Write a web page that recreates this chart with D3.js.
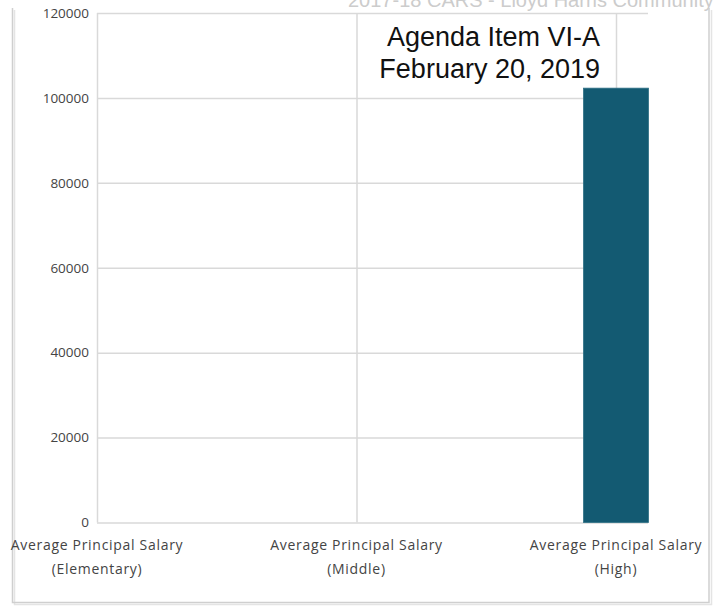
<!DOCTYPE html>
<html>
<head>
<meta charset="utf-8">
<script src="https://cdn.jsdelivr.net/npm/d3@7"></script>
<style>
  html, body { margin: 0; padding: 0; background: #fff; }
  svg { display: block; }
  .tickfont { font-family: 'Open Sans', 'Noto Sans', sans-serif; }
  .catfont { font-family: 'Open Sans', 'Noto Sans', sans-serif; }
  .notefont { font-family: 'Liberation Sans', Arial, sans-serif; }
</style>
</head>
<body>
<div id="chart"></div>
<script>
// Principal salary by school level
const categories = [
  ["Average Principal Salary", "(Elementary)"],
  ["Average Principal Salary", "(Middle)"],
  ["Average Principal Salary", "(High)"]
];
const categoryKeys = ["Elementary", "Middle", "High"];
const salaries = [0, 0, 102300];
const yTicks = [0, 20000, 40000, 60000, 80000, 100000, 120000];
const headerText = "2017-18 CARS - Lloyd Harris Community";
const noteLines = ["Agenda Item VI-A", "February 20, 2019"];

const W = 719, H = 609;
const plot = { left: 97, right: 648, top: 13, bottom: 522.5 };

const svg = d3.select("#chart").append("svg")
  .attr("width", W).attr("height", H);

// outer panel frame with a soft offset shadow
svg.append("path")
  .attr("d", `M14.5,10 V604.5 H711.5 V10`)
  .attr("fill", "none").attr("stroke", "#e4e4e4").attr("stroke-width", 1.5);
svg.append("path")
  .attr("d", `M12.5,8 V602.5 H709 V8`)
  .attr("fill", "none").attr("stroke", "#cfcfcf").attr("stroke-width", 1.5);

// faded header above the frame
svg.append("text")
  .attr("class", "notefont")
  .attr("x", 348).attr("y", 7)
  .attr("font-size", 20)
  .attr("fill", "#cccccc")
  .text(headerText);

const y = d3.scaleLinear().domain([0, 120000]).range([plot.bottom, plot.top]);
const x = d3.scalePoint().domain(categoryKeys).range([97, 616]);

// horizontal gridlines
const yAxis = d3.axisLeft(y).tickValues(yTicks).tickSize(-(plot.right - plot.left)).tickPadding(8)
  .tickFormat(d3.format("d"));
const gy = svg.append("g").attr("transform", `translate(${plot.left},0)`).call(yAxis);
gy.attr("font-family", null).attr("font-size", null);
gy.select(".domain").remove();
gy.selectAll(".tick line").attr("stroke", "#d9d9d9").attr("stroke-width", 1.5);
gy.selectAll(".tick text")
  .attr("class", "tickfont")
  .style("font-size", "13.5px")
  .attr("fill", "#444");

// vertical gridlines at each category
const xAxis = d3.axisBottom(x).tickSize(-(plot.bottom - plot.top)).tickFormat("");
const gx = svg.append("g").attr("transform", `translate(0,${plot.bottom})`).call(xAxis);
gx.select(".domain").remove();
gx.selectAll(".tick line").attr("stroke", "#d9d9d9").attr("stroke-width", 1.5);

// bars
const barW = 65;
svg.append("g").selectAll("rect")
  .data(salaries.map((v, i) => ({ key: categoryKeys[i], v })).filter(d => d.v > 0))
  .join("rect")
  .attr("x", d => x(d.key) - barW / 2)
  .attr("width", barW)
  .attr("y", d => y(d.v))
  .attr("height", d => y(0) - y(d.v))
  .attr("fill", "#135a72")
  .attr("stroke", "#2f7086")
  .attr("stroke-width", 0.8);

// two-line category labels
const lab = svg.append("g").selectAll("text")
  .data(categories.map((c, i) => ({ key: categoryKeys[i], lines: c })))
  .join("text")
  .attr("class", "catfont")
  .attr("text-anchor", "middle")
  .style("font-size", "14px")
  .style("letter-spacing", "0.7px")
  .attr("fill", "#444");
lab.each(function(d) {
  const t = d3.select(this);
  d.lines.forEach((line, j) => {
    t.append("tspan")
      .attr("x", x(d.key))
      .attr("y", 550 + j * 24)
      .text(line);
  });
});

// agenda note
const note = svg.append("text")
  .attr("class", "notefont")
  .attr("text-anchor", "end")
  .style("font-size", "27px")
  .attr("fill", "#111");
noteLines.forEach((line, j) => {
  note.append("tspan").attr("x", 600).attr("y", 46 + j * 32).text(line);
});
</script>
</body>
</html>
